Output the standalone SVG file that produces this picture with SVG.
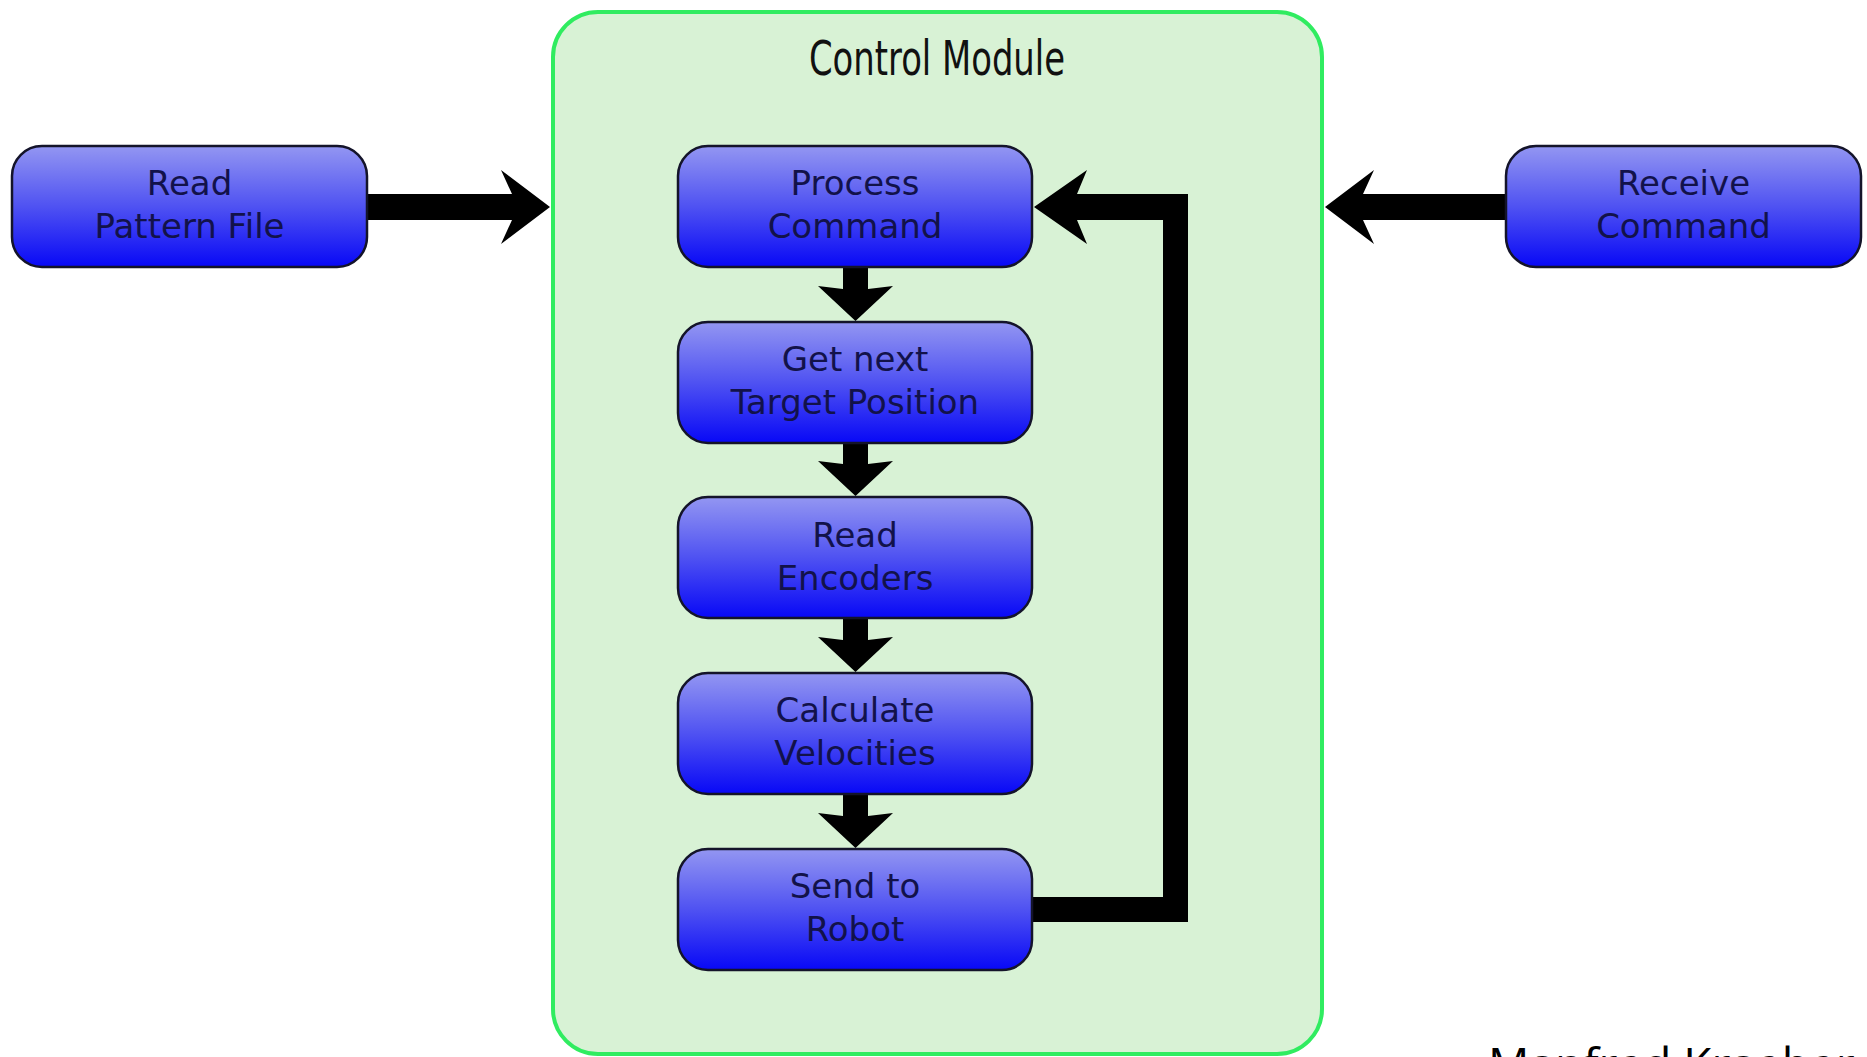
<svg xmlns="http://www.w3.org/2000/svg" width="1867" height="1057" viewBox="0 0 1867 1057">
  <defs>
    <linearGradient id="nodeGrad" x1="0" y1="0" x2="0" y2="1">
      <stop offset="0" stop-color="#9396f2"/>
      <stop offset="0.5" stop-color="#4f52f2"/>
      <stop offset="1" stop-color="#0808f6"/>
    </linearGradient>
    <style>
      .node rect { fill: url(#nodeGrad); stroke: #14142a; stroke-width: 2.5; }
      .node text { font-family: "DejaVu Sans", sans-serif; font-size: 34px; fill: #12124a; text-anchor: middle; }
      .conn path { fill: #000; stroke: none; }
      .title { font-family: "DejaVu Sans", sans-serif; font-size: 48px; fill: #111; text-anchor: middle; }
      .credit { font-family: "Open Sans", sans-serif; font-size: 46px; fill: #000; }
    </style>
  </defs>
  <rect x="0" y="0" width="1867" height="1057" fill="#ffffff"/>

  <g id="control-module">
    <rect x="553" y="12" width="769" height="1042" rx="45" ry="45" fill="#d8f2d5" stroke="#30ec60" stroke-width="4"/>
    <text class="title" x="937" y="75" textLength="256" lengthAdjust="spacingAndGlyphs">Control Module</text>
  </g>

  <g id="connectors" class="conn">
    <path d="M367 194 L512 194 L501 170 L550 207 L501 244 L512 220 L367 220 Z"/>
    <path d="M1506 194 L1363 194 L1374 170 L1325 207 L1374 244 L1363 220 L1506 220 Z"/>
    <path d="M1030 897 L1163 897 L1163 220 L1077 220 L1087 244 L1034 207 L1087 170 L1077 194 L1188 194 L1188 922 L1030 922 Z"/>
    <path d="M843 266 L868 266 L868 289 L893 286 L855.5 321 L818 286 L843 289 Z"/>
    <path d="M843 442 L868 442 L868 464 L893 461 L855.5 496 L818 461 L843 464 Z"/>
    <path d="M843 617 L868 617 L868 640 L893 637 L855.5 672 L818 637 L843 640 Z"/>
    <path d="M843 793 L868 793 L868 816 L893 813 L855.5 848 L818 813 L843 816 Z"/>
  </g>

  <g id="read-pattern-file" class="node">
    <rect x="12" y="146" width="355" height="121" rx="30" ry="30"/>
    <text x="189.5" y="195">Read</text>
    <text x="189.5" y="238">Pattern File</text>
  </g>

  <g id="receive-command" class="node">
    <rect x="1506" y="146" width="355" height="121" rx="30" ry="30"/>
    <text x="1683.5" y="195">Receive</text>
    <text x="1683.5" y="238">Command</text>
  </g>

  <g id="process-command" class="node">
    <rect x="678" y="146" width="354" height="121" rx="30" ry="30"/>
    <text x="855" y="195">Process</text>
    <text x="855" y="238">Command</text>
  </g>

  <g id="get-next-target" class="node">
    <rect x="678" y="322" width="354" height="121" rx="30" ry="30"/>
    <text x="855" y="371">Get next</text>
    <text x="855" y="414">Target Position</text>
  </g>

  <g id="read-encoders" class="node">
    <rect x="678" y="497" width="354" height="121" rx="30" ry="30"/>
    <text x="855" y="547">Read</text>
    <text x="855" y="590">Encoders</text>
  </g>

  <g id="calculate-velocities" class="node">
    <rect x="678" y="673" width="354" height="121" rx="30" ry="30"/>
    <text x="855" y="722">Calculate</text>
    <text x="855" y="765">Velocities</text>
  </g>

  <g id="send-to-robot" class="node">
    <rect x="678" y="849" width="354" height="121" rx="30" ry="30"/>
    <text x="855" y="898">Send to</text>
    <text x="855" y="941">Robot</text>
  </g>

  <text class="credit" x="1488" y="1081">Manfred Kraeber</text>
</svg>
